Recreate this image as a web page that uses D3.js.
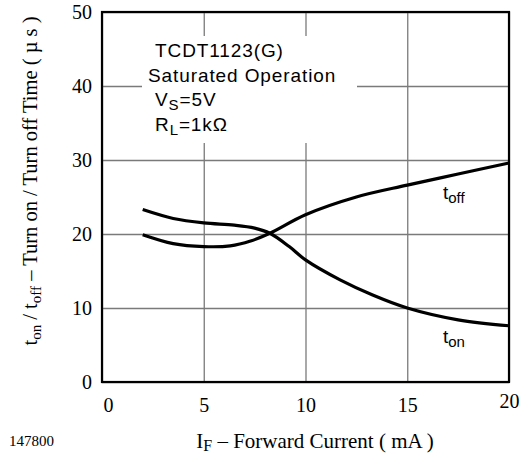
<!DOCTYPE html>
<html>
<head>
<meta charset="utf-8">
<script src="https://cdn.jsdelivr.net/npm/d3@7"></script>
<style>
body { margin: 0; background: #fff; }
</style>
</head>
<body>
<script>
var xTicks = [0, 5, 10, 15, 20];
var yTicks = [0, 10, 20, 30, 40, 50];
var tOnX = [2, 3.5, 5, 6.5, 7.5, 8.25, 9.2, 10, 11.7, 13.3, 15, 17.5, 20];
var tOnY = [23.3, 22.1, 21.5, 21.2, 20.8, 20.1, 18.3, 16.5, 13.8, 11.75, 10, 8.4, 7.6];
var tOffX = [2, 3.5, 5, 6.3, 7.3, 8.25, 10, 12.5, 15, 17.5, 20];
var tOffY = [19.9, 18.7, 18.3, 18.4, 19.05, 20.1, 22.6, 25.0, 26.6, 28.1, 29.6];

var serif = "'Liberation Serif', 'Times New Roman', serif";
var sans = "'Liberation Sans', Arial, sans-serif";

var pL = 102, pT = 12, pR = 509, pB = 382;

var svg = d3.select("body").append("svg").attr("width", 528).attr("height", 456);

var x = d3.scaleLinear().domain([0, 20]).range([pL, pR]);
var y = d3.scaleLinear().domain([0, 50]).range([pB, pT]);

// grid
svg.append("g")
  .attr("transform", "translate(0," + pB + ")")
  .call(d3.axisBottom(x).tickValues(xTicks).tickSize(-(pB - pT)).tickFormat(""))
  .call(function (g) { g.select(".domain").remove(); })
  .selectAll("line").attr("stroke", "#7a7a7a").attr("stroke-width", 1.3);

svg.append("g")
  .attr("transform", "translate(" + pL + ",0)")
  .call(d3.axisLeft(y).tickValues(yTicks).tickSize(-(pR - pL)).tickFormat(""))
  .call(function (g) { g.select(".domain").remove(); })
  .selectAll("line").attr("stroke", "#7a7a7a").attr("stroke-width", 1.3);

// white box behind the note
svg.append("rect")
  .attr("x", 142).attr("y", 36).attr("width", 215).attr("height", 107)
  .attr("fill", "#fff");

// frame
svg.append("rect")
  .attr("x", pL).attr("y", pT)
  .attr("width", pR - pL).attr("height", pB - pT)
  .attr("fill", "none").attr("stroke", "#000").attr("stroke-width", 2.2);

// tick labels
var xAx = svg.append("g")
  .attr("transform", "translate(0," + pB + ")")
  .call(d3.axisBottom(x).tickValues(xTicks).tickSize(0).tickPadding(16));
xAx.select(".domain").remove();
xAx.selectAll("text")
  .attr("font-family", serif).attr("font-size", 20).attr("fill", "#000")
  .attr("dx", function (d) { return d === 0 ? 6 : 0; })
  .attr("y", function (d) { return d === 20 ? 12 : 16; });

var yAx = svg.append("g")
  .attr("transform", "translate(" + pL + ",0)")
  .call(d3.axisLeft(y).tickValues(yTicks).tickSize(0).tickPadding(10));
yAx.select(".domain").remove();
yAx.selectAll("text")
  .attr("font-family", serif).attr("font-size", 20).attr("fill", "#000");

// curves
var line = d3.line()
  .x(function (d) { return x(d[0]); })
  .y(function (d) { return y(d[1]); })
  .curve(d3.curveCatmullRom.alpha(0.5));

svg.append("path")
  .datum(d3.zip(tOnX, tOnY))
  .attr("d", line)
  .attr("fill", "none").attr("stroke", "#000").attr("stroke-width", 3.2);

svg.append("path")
  .datum(d3.zip(tOffX, tOffY))
  .attr("d", line)
  .attr("fill", "none").attr("stroke", "#000").attr("stroke-width", 3.2);

// curve labels
var lOff = svg.append("text").attr("x", 443).attr("y", 199)
  .attr("font-family", sans).attr("font-size", 19);
lOff.append("tspan").text("t");
lOff.append("tspan").attr("dy", 4).attr("font-size", 15).text("off");

var lOn = svg.append("text").attr("x", 443).attr("y", 343)
  .attr("font-family", sans).attr("font-size", 19);
lOn.append("tspan").text("t");
lOn.append("tspan").attr("dy", 4).attr("font-size", 15).text("on");

// note
var note = svg.append("g").attr("font-family", sans).attr("font-size", 19)
  .attr("letter-spacing", 0.9).attr("fill", "#000");
note.append("text").attr("x", 155).attr("y", 57).text("TCDT1123(G)");
note.append("text").attr("x", 148).attr("y", 82).text("Saturated Operation");
var vs = note.append("text").attr("x", 155).attr("y", 106);
vs.append("tspan").text("V");
vs.append("tspan").attr("dy", 4).attr("font-size", 15).text("S");
vs.append("tspan").attr("dy", -4).text("=5V");
var rl = note.append("text").attr("x", 155).attr("y", 131);
rl.append("tspan").text("R");
rl.append("tspan").attr("dy", 4).attr("font-size", 15).text("L");
rl.append("tspan").attr("dy", -4).text("=1kΩ");

// axis titles
var xt = svg.append("text").attr("x", 315).attr("y", 448)
  .attr("text-anchor", "middle").attr("font-family", serif).attr("font-size", 21);
xt.append("tspan").text("I");
xt.append("tspan").attr("dy", 3).attr("font-size", 16).text("F");
xt.append("tspan").attr("dy", -3).text(" – Forward Current ( mA )");

var yt = svg.append("text")
  .attr("transform", "translate(37,181) rotate(-90)")
  .attr("text-anchor", "middle").attr("font-family", serif).attr("font-size", 20.5);
yt.append("tspan").text("t");
yt.append("tspan").attr("dy", 4).attr("font-size", 15).text("on");
yt.append("tspan").attr("dy", -4).text(" / t");
yt.append("tspan").attr("dy", 4).attr("font-size", 15).text("off");
yt.append("tspan").attr("dy", -4).text("  – Turn on / Turn off Time ( µ s )");

svg.append("text").attr("x", 9).attr("y", 446)
  .attr("font-family", serif).attr("font-size", 15).text("147800");
</script>
</body>
</html>
